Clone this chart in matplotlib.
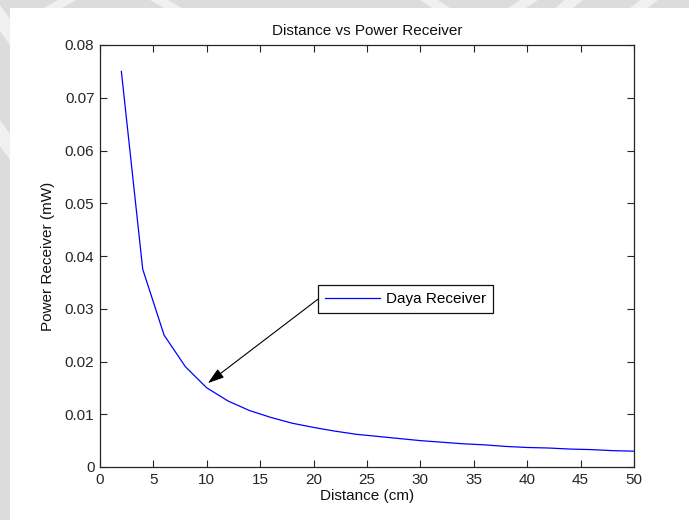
import matplotlib
matplotlib.use("Agg")
import matplotlib.pyplot as plt
from matplotlib.patches import Rectangle, Polygon

# Received power measured at each distance
distance_cm = [2, 4, 6, 8, 10, 12, 14, 16, 18, 20, 22, 24, 26, 28, 30,
               32, 34, 36, 38, 40, 42, 44, 46, 48, 50]
power_mw = [0.075, 0.0375, 0.025, 0.019, 0.015, 0.0125, 0.0107, 0.0094,
            0.0083, 0.0075, 0.0068, 0.0062, 0.0058, 0.0054, 0.0050,
            0.0047, 0.0044, 0.0042, 0.0039, 0.0037, 0.0036, 0.0034,
            0.0033, 0.0031, 0.0030]

x_ticks = [0, 5, 10, 15, 20, 25, 30, 35, 40, 45, 50]
y_ticks = [0, 0.01, 0.02, 0.03, 0.04, 0.05, 0.06, 0.07, 0.08]
y_tick_labels = ["0", "0.01", "0.02", "0.03", "0.04", "0.05", "0.06", "0.07", "0.08"]

plt.rcParams['font.family'] = ['Liberation Sans', 'DejaVu Sans']

W, H = 689, 520
fig = plt.figure(figsize=(W / 100, H / 100), dpi=100, facecolor="white")

# grey page margin along the top and left edges, with light diagonal strokes
grey = "#dcdcdc"
fig.patches.append(Rectangle((0, 1 - 8 / H), 1, 8 / H, transform=fig.transFigure,
                             facecolor=grey, edgecolor="none", zorder=-10))
fig.patches.append(Rectangle((0, 0), 10 / W, 1, transform=fig.transFigure,
                             facecolor=grey, edgecolor="none", zorder=-10))
for x0, dx in [(58, 14), (150, -14), (420, -12), (520, 12), (565, 10), (640, 10)]:
    pts = [((x0) / W, 1.0), ((x0 + 18) / W, 1.0),
           ((x0 + 18 - dx) / W, 1 - 8 / H), ((x0 - dx) / W, 1 - 8 / H)]
    fig.patches.append(Polygon(pts, closed=True, transform=fig.transFigure,
                               facecolor="#f0f0f0", edgecolor="none", zorder=-9))
for y0 in [5, 120]:
    pts = [(0, 1 - y0 / H), (10 / W, 1 - (y0 + 14) / H),
           (10 / W, 1 - (y0 + 40) / H), (0, 1 - (y0 + 26) / H)]
    fig.patches.append(Polygon(pts, closed=True, transform=fig.transFigure,
                               facecolor="#f0f0f0", edgecolor="none", zorder=-9))

left, right, top, bottom = 100, 634, 45, 467
ax = fig.add_axes([left / W, 1 - bottom / H, (right - left) / W, (bottom - top) / H])

line, = ax.plot(distance_cm, power_mw, color="#0000ff", linewidth=0.9,
                label="Daya Receiver")

ax.set_xlim(0, 50)
ax.set_ylim(0, 0.08)
ax.set_xticks(x_ticks)
ax.set_xticklabels([str(v) for v in x_ticks])
ax.set_yticks(y_ticks)
ax.set_yticklabels(y_tick_labels)

ax.tick_params(direction="in", length=5, width=0.8, top=True, right=True,
               labelsize=11, colors="#262626", pad=4)
for s in ax.spines.values():
    s.set_color("#262626")
    s.set_linewidth(0.9)

ax.set_title("Distance vs Power Receiver", fontsize=11, pad=7, color="#111111")
ax.set_xlabel("Distance (cm)", fontsize=11, labelpad=2, color="#111111")
ax.set_ylabel("Power Receiver (mW)", fontsize=11, labelpad=7, color="#111111")

leg = ax.legend(loc="upper left", bbox_to_anchor=((318 - left) / (right - left),
                                                   (bottom - 285) / (bottom - top)),
                fancybox=False, framealpha=1, edgecolor="#111111", fontsize=11,
                handlelength=3.6, handletextpad=0.4, borderpad=0.45,
                borderaxespad=0)
leg.get_frame().set_linewidth(0.9)

# arrow from the legend box down to the curve near 10 cm
ax.annotate("", xy=(10.1, 0.0159), xytext=(20.4, 0.0318),
            arrowprops=dict(arrowstyle="-|>,head_length=1.0,head_width=0.32",
                            color="black", linewidth=0.8, shrinkA=0, shrinkB=0))

fig.savefig("out.png", dpi=100, facecolor=fig.get_facecolor())
